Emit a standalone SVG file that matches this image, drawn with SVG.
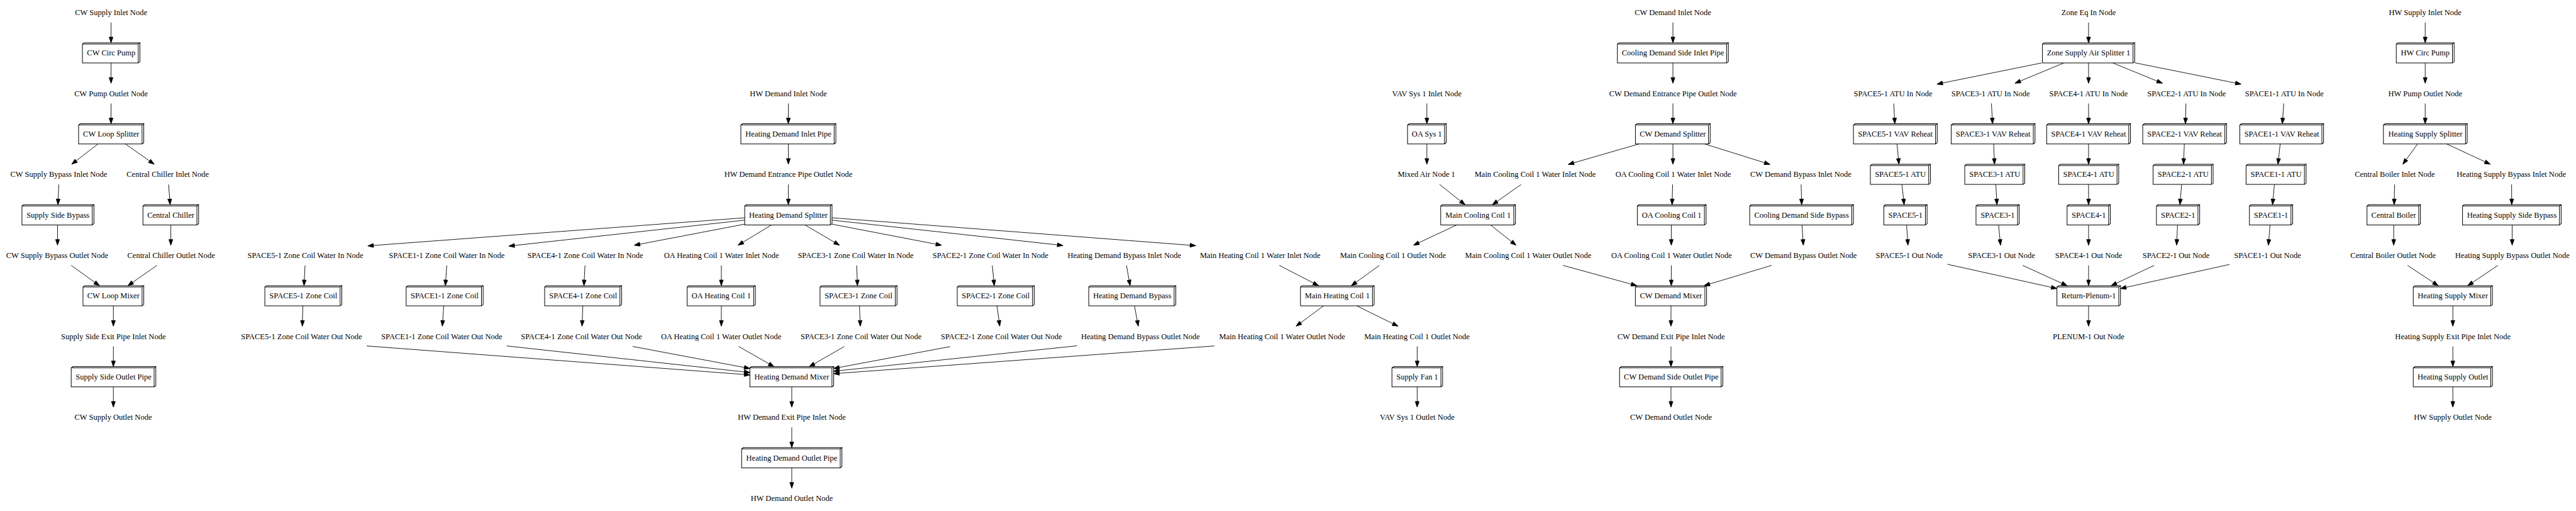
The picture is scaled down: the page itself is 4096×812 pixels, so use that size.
<svg xmlns="http://www.w3.org/2000/svg" width="4096" height="812" viewBox="0 0 4096 812">
<style>
.n text{font-family:"Liberation Serif","Times New Roman",Times,serif;font-size:18.67px;text-anchor:middle;fill:#000}
.b3{fill:none;stroke:#000;stroke-width:1.5}
.e path{fill:none;stroke:#000;stroke-width:1.33;marker-end:url(#ah)}
</style>
<defs>
<marker id="ah" viewBox="0 0 14 10" refX="13.3" refY="5" markerWidth="14" markerHeight="10" markerUnits="userSpaceOnUse" orient="auto" overflow="visible"><path d="M0,0.33L13.3,5L0,9.67Z" fill="#000" stroke="#000" stroke-width="1.33"/></marker>
</defs>
<rect width="4096" height="812" fill="#fff"/>
<g transform="scale(0.670157)">
<g id="edges" class="e">
<path d="M263.5,53.33L263.5,101.33"/>
<path d="M263.5,149.33L263.5,197.33"/>
<path d="M263.5,245.33L263.5,293.33"/>
<path d="M232.6,341.33L170.2,389.33"/>
<path d="M297.6,341.33L365.8,389.33"/>
<path d="M139.4,437.33L137.5,485.33"/>
<path d="M400,437.33L403.6,485.33"/>
<path d="M136.5,533.33L136.5,581.33"/>
<path d="M405.3,533.33L405.3,581.33"/>
<path d="M169,629.33L235.9,677.33"/>
<path d="M372.3,629.33L303.5,677.33"/>
<path d="M269,725.33L269,773.33"/>
<path d="M269,821.33L269,869.33"/>
<path d="M269,917.33L269,965.33"/>
<path d="M1870.5,245.33L1870.5,293.33"/>
<path d="M1870.5,341.33L1870.5,389.33"/>
<path d="M1870.5,437.33L1870.5,485.33"/>
<path d="M1767,516.4L872.7,583"/>
<path d="M1767,522L1207.4,583.5"/>
<path d="M1767,531.5L1505,581.5"/>
<path d="M1830.6,533.33L1751.3,581.33"/>
<path d="M1909.8,533.33L1991.7,581.33"/>
<path d="M1974,531.5L2234,581.5"/>
<path d="M1974,522L2522,582"/>
<path d="M1974,516.4L2837,582.5"/>
<path d="M723.8,629.33L721.3,677.33"/>
<path d="M1060,629.33L1056.7,677.33"/>
<path d="M1388,629.33L1385.5,677.33"/>
<path d="M1711.5,629.33L1711.5,677.33"/>
<path d="M2032.6,629.33L2034.5,677.33"/>
<path d="M2354.4,629.33L2359,677.33"/>
<path d="M2672.8,629.33L2681.3,677.33"/>
<path d="M3035.4,629.33L3128.5,677.33"/>
<path d="M718.6,725.33L717.3,773.33"/>
<path d="M1052.8,725.33L1049.5,773.33"/>
<path d="M1382.9,725.33L1381,773.33"/>
<path d="M1711.5,725.33L1711.5,773.33"/>
<path d="M2039.3,725.33L2041.2,773.33"/>
<path d="M2365.5,725.33L2372,773.33"/>
<path d="M2691.7,725.33L2700.8,773.33"/>
<path d="M3140.2,725.33L3075.2,773.33"/>
<path d="M870,820.3L1779.2,889"/>
<path d="M1202.2,820.3L1779.2,883.3"/>
<path d="M1501.1,821.5L1779.2,873.7"/>
<path d="M1752.6,821.5L1836.4,869.33"/>
<path d="M2003.4,821.5L1920.2,869.33"/>
<path d="M2254.4,821.8L1978,873.7"/>
<path d="M2555.2,820L1978,880.2"/>
<path d="M2881.4,820.3L1978,886"/>
<path d="M1878.6,917.33L1878.6,965.33"/>
<path d="M1878.6,1013.33L1878.6,1061.33"/>
<path d="M1878.6,1109.33L1878.6,1157.33"/>
<path d="M3385.5,245.33L3385.5,293.33"/>
<path d="M3385.5,341.33L3385.5,389.33"/>
<path d="M3415.7,437.33L3476.1,485.33"/>
<path d="M3609.3,437.33L3541.1,485.33"/>
<path d="M3456.6,533.33L3354,581.33"/>
<path d="M3536.5,533.33L3597,581.33"/>
<path d="M3272.7,629.33L3206.4,677.33"/>
<path d="M3219.4,725.33L3317,773.33"/>
<path d="M3362.5,821.33L3362.5,869.33"/>
<path d="M3362.5,917.33L3362.5,965.33"/>
<path d="M3969.3,53.33L3969.3,101.33"/>
<path d="M3969.3,149.33L3969.3,197.33"/>
<path d="M3969.3,245.33L3969.3,293.33"/>
<path d="M3888.7,341.33L3721,389.8"/>
<path d="M3969.3,341.33L3969.3,389.33"/>
<path d="M4044.7,341.33L4199.5,389.8"/>
<path d="M3968.6,437.33L3967.3,485.33"/>
<path d="M4273.5,437.33L4274.8,485.33"/>
<path d="M3965.4,533.33L3965.4,581.33"/>
<path d="M4275.5,533.33L4278.7,581.33"/>
<path d="M3708.7,629.33L3883.5,677.33"/>
<path d="M3965.4,629.33L3965.4,677.33"/>
<path d="M4203.4,629.33L4043.4,677.33"/>
<path d="M3964.7,725.33L3964.7,773.33"/>
<path d="M3964.7,821.33L3964.7,869.33"/>
<path d="M3964.7,917.33L3964.7,965.33"/>
<path d="M4955.5,53.33L4955.5,101.33"/>
<path d="M4844,149.33L4595.8,199.5"/>
<path d="M4896.7,149.33L4781,197.33"/>
<path d="M4955.5,149.33L4955.5,197.33"/>
<path d="M5013,149.33L5130.7,197.33"/>
<path d="M5065,148.8L5317.2,199.5"/>
<path d="M4493.2,245.33L4495.8,293.33"/>
<path d="M4725,245.33L4727.7,293.33"/>
<path d="M4955.5,245.33L4955.5,293.33"/>
<path d="M5186.6,245.33L5185.3,293.33"/>
<path d="M5418.6,245.33L5415.3,293.33"/>
<path d="M4501,341.33L4505.5,389.33"/>
<path d="M4730.3,341.33L4732.3,389.33"/>
<path d="M4955.5,341.33L4955.5,389.33"/>
<path d="M5182.7,341.33L5180.8,389.33"/>
<path d="M5410.1,341.33L5404.9,389.33"/>
<path d="M4512.7,437.33L4517.9,485.33"/>
<path d="M4735.5,437.33L4738.1,485.33"/>
<path d="M4955.5,437.33L4955.5,485.33"/>
<path d="M5176.2,437.33L5172.3,485.33"/>
<path d="M5396.5,437.33L5392,485.33"/>
<path d="M4523.7,533.33L4527,581.33"/>
<path d="M4742,533.33L4746.6,581.33"/>
<path d="M4955.5,533.33L4955.5,581.33"/>
<path d="M5166.5,533.33L5164.5,581.33"/>
<path d="M5386,533.33L5382.2,581.33"/>
<path d="M4620.5,626.6L4880.4,684.2"/>
<path d="M4799.2,629.33L4904.5,677.33"/>
<path d="M4955.5,629.33L4955.5,677.33"/>
<path d="M5111.2,629.33L5009.1,677.33"/>
<path d="M5290,627L5031.2,684.2"/>
<path d="M4955.5,725.33L4955.5,773.33"/>
<path d="M5754.2,53.33L5754.2,101.33"/>
<path d="M5754.2,149.33L5754.2,197.33"/>
<path d="M5754.2,245.33L5754.2,293.33"/>
<path d="M5736.3,341.33L5701.2,389.33"/>
<path d="M5805.2,341.33L5908.5,389.33"/>
<path d="M5681.7,437.33L5680.5,485.33"/>
<path d="M5959.2,437.33L5959.5,485.33"/>
<path d="M5679.5,533.33L5679.5,581.33"/>
<path d="M5960.5,533.33L5960.5,581.33"/>
<path d="M5712.3,629.33L5785,677.33"/>
<path d="M5926.7,629.33L5855.2,677.33"/>
<path d="M5819.8,725.33L5819.8,773.33"/>
<path d="M5819.8,821.33L5819.8,869.33"/>
<path d="M5819.8,917.33L5819.8,965.33"/>
</g>
<g id="text-nodes" class="n">
<g id="cw_supply_inlet_node" transform="translate(263.5,29.33)"><text y="6.5">CW Supply Inlet Node</text></g>
<g id="cw_pump_outlet_node" transform="translate(263.5,221.33)"><text y="6.5">CW Pump Outlet Node</text></g>
<g id="cw_supply_bypass_inlet_node" transform="translate(139.4,413.33)"><text y="6.5">CW Supply Bypass Inlet Node</text></g>
<g id="central_chiller_inlet_node" transform="translate(398,413.33)"><text y="6.5">Central Chiller Inlet Node</text></g>
<g id="cw_supply_bypass_outlet_node" transform="translate(135.5,605.33)"><text y="6.5">CW Supply Bypass Outlet Node</text></g>
<g id="central_chiller_outlet_node" transform="translate(406,605.33)"><text y="6.5">Central Chiller Outlet Node</text></g>
<g id="supply_side_exit_pipe_inlet_node" transform="translate(269,797.33)"><text y="6.5">Supply Side Exit Pipe Inlet Node</text></g>
<g id="cw_supply_outlet_node" transform="translate(268.5,989.33)"><text y="6.5">CW Supply Outlet Node</text></g>
<g id="hw_demand_inlet_node" transform="translate(1870.5,221.33)"><text y="6.5">HW Demand Inlet Node</text></g>
<g id="hw_demand_entrance_pipe_outlet_node" transform="translate(1870.5,413.33)"><text y="6.5">HW Demand Entrance Pipe Outlet Node</text></g>
<g id="space5_zc_in" transform="translate(724.6,605.33)"><text y="6.5">SPACE5-1 Zone Coil Water In Node</text></g>
<g id="space1_zc_in" transform="translate(1060,605.33)"><text y="6.5">SPACE1-1 Zone Coil Water In Node</text></g>
<g id="space4_zc_in" transform="translate(1388.7,605.33)"><text y="6.5">SPACE4-1 Zone Coil Water In Node</text></g>
<g id="oa_hc1_water_inlet" transform="translate(1711.7,605.33)"><text y="6.5">OA Heating Coil 1 Water Inlet Node</text></g>
<g id="space3_zc_in" transform="translate(2030,605.33)"><text y="6.5">SPACE3-1 Zone Coil Water In Node</text></g>
<g id="space2_zc_in" transform="translate(2350,605.33)"><text y="6.5">SPACE2-1 Zone Coil Water In Node</text></g>
<g id="hd_bypass_inlet" transform="translate(2667.6,605.33)"><text y="6.5">Heating Demand Bypass Inlet Node</text></g>
<g id="mhc1_water_inlet" transform="translate(2990,605.33)"><text y="6.5">Main Heating Coil 1 Water Inlet Node</text></g>
<g id="space5_zc_out" transform="translate(715.4,797.33)"><text y="6.5">SPACE5-1 Zone Coil Water Out Node</text></g>
<g id="space1_zc_out" transform="translate(1048,797.33)"><text y="6.5">SPACE1-1 Zone Coil Water Out Node</text></g>
<g id="space4_zc_out" transform="translate(1379.6,797.33)"><text y="6.5">SPACE4-1 Zone Coil Water Out Node</text></g>
<g id="oa_hc1_water_outlet" transform="translate(1711,797.33)"><text y="6.5">OA Heating Coil 1 Water Outlet Node</text></g>
<g id="space3_zc_out" transform="translate(2043,797.33)"><text y="6.5">SPACE3-1 Zone Coil Water Out Node</text></g>
<g id="space2_zc_out" transform="translate(2376,797.33)"><text y="6.5">SPACE2-1 Zone Coil Water Out Node</text></g>
<g id="hd_bypass_outlet" transform="translate(2706,797.33)"><text y="6.5">Heating Demand Bypass Outlet Node</text></g>
<g id="mhc1_water_outlet" transform="translate(3042,797.33)"><text y="6.5">Main Heating Coil 1 Water Outlet Node</text></g>
<g id="hw_demand_exit_pipe_inlet" transform="translate(1878.6,989.33)"><text y="6.5">HW Demand Exit Pipe Inlet Node</text></g>
<g id="hw_demand_outlet_node" transform="translate(1878.6,1181.33)"><text y="6.5">HW Demand Outlet Node</text></g>
<g id="vav_sys1_inlet" transform="translate(3385.5,221.33)"><text y="6.5">VAV Sys 1 Inlet Node</text></g>
<g id="mixed_air_node1" transform="translate(3384.5,413.33)"><text y="6.5">Mixed Air Node 1</text></g>
<g id="mcc1_water_inlet" transform="translate(3642.4,413.33)"><text y="6.5">Main Cooling Coil 1 Water Inlet Node</text></g>
<g id="mcc1_outlet" transform="translate(3305,605.33)"><text y="6.5">Main Cooling Coil 1 Outlet Node</text></g>
<g id="mcc1_water_outlet" transform="translate(3626,605.33)"><text y="6.5">Main Cooling Coil 1 Water Outlet Node</text></g>
<g id="mhc1_outlet" transform="translate(3362,797.33)"><text y="6.5">Main Heating Coil 1 Outlet Node</text></g>
<g id="vav_sys1_outlet" transform="translate(3362.5,989.33)"><text y="6.5">VAV Sys 1 Outlet Node</text></g>
<g id="cw_demand_inlet" transform="translate(3969.3,29.33)"><text y="6.5">CW Demand Inlet Node</text></g>
<g id="cw_demand_entrance_pipe_outlet" transform="translate(3969.5,221.33)"><text y="6.5">CW Demand Entrance Pipe Outlet Node</text></g>
<g id="oacc1_water_inlet" transform="translate(3970,413.33)"><text y="6.5">OA Cooling Coil 1 Water Inlet Node</text></g>
<g id="cw_demand_bypass_inlet" transform="translate(4272.6,413.33)"><text y="6.5">CW Demand Bypass Inlet Node</text></g>
<g id="oacc1_water_outlet" transform="translate(3966,605.33)"><text y="6.5">OA Cooling Coil 1 Water Outlet Node</text></g>
<g id="cw_demand_bypass_outlet" transform="translate(4279,605.33)"><text y="6.5">CW Demand Bypass Outlet Node</text></g>
<g id="cw_demand_exit_pipe_inlet" transform="translate(3965,797.33)"><text y="6.5">CW Demand Exit Pipe Inlet Node</text></g>
<g id="cw_demand_outlet" transform="translate(3964.7,989.33)"><text y="6.5">CW Demand Outlet Node</text></g>
<g id="zone_eq_in" transform="translate(4955.5,29.33)"><text y="6.5">Zone Eq In Node</text></g>
<g id="space5_atu_in" transform="translate(4491.5,221.33)"><text y="6.5">SPACE5-1 ATU In Node</text></g>
<g id="space3_atu_in" transform="translate(4723,221.33)"><text y="6.5">SPACE3-1 ATU In Node</text></g>
<g id="space4_atu_in" transform="translate(4955.5,221.33)"><text y="6.5">SPACE4-1 ATU In Node</text></g>
<g id="space2_atu_in" transform="translate(5188,221.33)"><text y="6.5">SPACE2-1 ATU In Node</text></g>
<g id="space1_atu_in" transform="translate(5420,221.33)"><text y="6.5">SPACE1-1 ATU In Node</text></g>
<g id="space5_out" transform="translate(4530,605.33)"><text y="6.5">SPACE5-1 Out Node</text></g>
<g id="space3_out" transform="translate(4748.8,605.33)"><text y="6.5">SPACE3-1 Out Node</text></g>
<g id="space4_out" transform="translate(4955.5,605.33)"><text y="6.5">SPACE4-1 Out Node</text></g>
<g id="space2_out" transform="translate(5163,605.33)"><text y="6.5">SPACE2-1 Out Node</text></g>
<g id="space1_out" transform="translate(5380,605.33)"><text y="6.5">SPACE1-1 Out Node</text></g>
<g id="plenum1_out" transform="translate(4955.5,797.33)"><text y="6.5">PLENUM-1 Out Node</text></g>
<g id="hw_supply_inlet" transform="translate(5754.2,29.33)"><text y="6.5">HW Supply Inlet Node</text></g>
<g id="hw_pump_outlet" transform="translate(5754.2,221.33)"><text y="6.5">HW Pump Outlet Node</text></g>
<g id="central_boiler_inlet" transform="translate(5682,413.33)"><text y="6.5">Central Boiler Inlet Node</text></g>
<g id="hs_bypass_inlet" transform="translate(5958.5,413.33)"><text y="6.5">Heating Supply Bypass Inlet Node</text></g>
<g id="central_boiler_outlet" transform="translate(5678,605.33)"><text y="6.5">Central Boiler Outlet Node</text></g>
<g id="hs_bypass_outlet" transform="translate(5961,605.33)"><text y="6.5">Heating Supply Bypass Outlet Node</text></g>
<g id="hs_exit_pipe_inlet" transform="translate(5819.8,797.33)"><text y="6.5">Heating Supply Exit Pipe Inlet Node</text></g>
<g id="hw_supply_outlet" transform="translate(5819.8,989.33)"><text y="6.5">HW Supply Outlet Node</text></g>
</g>
<g id="box-nodes" class="n">
<g id="cw_circ_pump" transform="translate(263.8,125.33)"><path class="b3" d="M-68.2,-21H64.2V24H-68.2ZM-68.2,-21L-64.2,-24H68.2L64.2,-21M68.2,-24V21L64.2,24"/><text y="6.5">CW Circ Pump</text></g>
<g id="cw_loop_splitter" transform="translate(263.8,317.33)"><path class="b3" d="M-77.3,-21H73.3V24H-77.3ZM-77.3,-21L-73.3,-24H77.3L73.3,-21M77.3,-24V21L73.3,24"/><text y="6.5">CW Loop Splitter</text></g>
<g id="supply_side_bypass" transform="translate(137.5,509.33)"><path class="b3" d="M-85.4,-21H81.4V24H-85.4ZM-85.4,-21L-81.4,-24H85.4L81.4,-21M85.4,-24V21L81.4,24"/><text y="6.5">Supply Side Bypass</text></g>
<g id="central_chiller" transform="translate(405.2,509.33)"><path class="b3" d="M-66,-21H62V24H-66ZM-66,-21L-62,-24H66L62,-21M66,-24V21L62,24"/><text y="6.5">Central Chiller</text></g>
<g id="cw_loop_mixer" transform="translate(269,701.33)"><path class="b3" d="M-72.1,-21H68.1V24H-72.1ZM-72.1,-21L-68.1,-24H72.1L68.1,-21M72.1,-24V21L68.1,24"/><text y="6.5">CW Loop Mixer</text></g>
<g id="supply_side_outlet_pipe" transform="translate(269.3,893.33)"><path class="b3" d="M-100.4,-21H96.4V24H-100.4ZM-100.4,-21L-96.4,-24H100.4L96.4,-21M100.4,-24V21L96.4,24"/><text y="6.5">Supply Side Outlet Pipe</text></g>
<g id="space5_zone_coil" transform="translate(719.7,701.33)"><path class="b3" d="M-91.3,-21H87.3V24H-91.3ZM-91.3,-21L-87.3,-24H91.3L87.3,-21M91.3,-24V21L87.3,24"/><text y="6.5">SPACE5-1 Zone Coil</text></g>
<g id="space1_zone_coil" transform="translate(1055,701.33)"><path class="b3" d="M-91.3,-21H87.3V24H-91.3ZM-91.3,-21L-87.3,-24H91.3L87.3,-21M91.3,-24V21L87.3,24"/><text y="6.5">SPACE1-1 Zone Coil</text></g>
<g id="space4_zone_coil" transform="translate(1383.6,701.33)"><path class="b3" d="M-91.3,-21H87.3V24H-91.3ZM-91.3,-21L-87.3,-24H91.3L87.3,-21M91.3,-24V21L87.3,24"/><text y="6.5">SPACE4-1 Zone Coil</text></g>
<g id="oa_heating_coil1" transform="translate(1711.3,701.33)"><path class="b3" d="M-80.9,-21H76.9V24H-80.9ZM-80.9,-21L-76.9,-24H80.9L76.9,-21M80.9,-24V21L76.9,24"/><text y="6.5">OA Heating Coil 1</text></g>
<g id="space3_zone_coil" transform="translate(2037,701.33)"><path class="b3" d="M-91.3,-21H87.3V24H-91.3ZM-91.3,-21L-87.3,-24H91.3L87.3,-21M91.3,-24V21L87.3,24"/><text y="6.5">SPACE3-1 Zone Coil</text></g>
<g id="space2_zone_coil" transform="translate(2362.5,701.33)"><path class="b3" d="M-91.3,-21H87.3V24H-91.3ZM-91.3,-21L-87.3,-24H91.3L87.3,-21M91.3,-24V21L87.3,24"/><text y="6.5">SPACE2-1 Zone Coil</text></g>
<g id="heating_demand_bypass" transform="translate(2686.5,701.33)"><path class="b3" d="M-103.3,-21H99.3V24H-103.3ZM-103.3,-21L-99.3,-24H103.3L99.3,-21M103.3,-24V21L99.3,24"/><text y="6.5">Heating Demand Bypass</text></g>
<g id="heating_demand_inlet_pipe" transform="translate(1870.5,317.33)"><path class="b3" d="M-112.7,-21H108.7V24H-112.7ZM-112.7,-21L-108.7,-24H112.7L108.7,-21M112.7,-24V21L108.7,24"/><text y="6.5">Heating Demand Inlet Pipe</text></g>
<g id="heating_demand_splitter" transform="translate(1870.5,509.33)"><path class="b3" d="M-103.6,-21H99.6V24H-103.6ZM-103.6,-21L-99.6,-24H103.6L99.6,-21M103.6,-24V21L99.6,24"/><text y="6.5">Heating Demand Splitter</text></g>
<g id="heating_demand_mixer" transform="translate(1878.6,893.33)"><path class="b3" d="M-99.4,-21H95.4V24H-99.4ZM-99.4,-21L-95.4,-24H99.4L95.4,-21M99.4,-24V21L95.4,24"/><text y="6.5">Heating Demand Mixer</text></g>
<g id="heating_demand_outlet_pipe" transform="translate(1878.6,1085.33)"><path class="b3" d="M-119,-21H115V24H-119ZM-119,-21L-115,-24H119L115,-21M119,-24V21L115,24"/><text y="6.5">Heating Demand Outlet Pipe</text></g>
<g id="main_heating_coil1" transform="translate(3173,701.33)"><path class="b3" d="M-87.4,-21H83.4V24H-87.4ZM-87.4,-21L-83.4,-24H87.4L83.4,-21M87.4,-24V21L83.4,24"/><text y="6.5">Main Heating Coil 1</text></g>
<g id="supply_fan1" transform="translate(3362.7,893.33)"><path class="b3" d="M-60.1,-21H56.1V24H-60.1ZM-60.1,-21L-56.1,-24H60.1L56.1,-21M60.1,-24V21L56.1,24"/><text y="6.5">Supply Fan 1</text></g>
<g id="oa_sys1" transform="translate(3385.5,317.33)"><path class="b3" d="M-45.9,-21H41.9V24H-45.9ZM-45.9,-21L-41.9,-24H45.9L41.9,-21M45.9,-24V21L41.9,24"/><text y="6.5">OA Sys 1</text></g>
<g id="main_cooling_coil1" transform="translate(3507,509.33)"><path class="b3" d="M-88.7,-21H84.7V24H-88.7ZM-88.7,-21L-84.7,-24H88.7L84.7,-21M88.7,-24V21L84.7,24"/><text y="6.5">Main Cooling Coil 1</text></g>
<g id="cooling_demand_side_inlet_pipe" transform="translate(3969.2,125.33)"><path class="b3" d="M-131.7,-21H127.7V24H-131.7ZM-131.7,-21L-127.7,-24H131.7L127.7,-21M131.7,-24V21L127.7,24"/><text y="6.5">Cooling Demand Side Inlet Pipe</text></g>
<g id="cw_demand_splitter" transform="translate(3969,317.33)"><path class="b3" d="M-88.7,-21H84.7V24H-88.7ZM-88.7,-21L-84.7,-24H88.7L84.7,-21M88.7,-24V21L84.7,24"/><text y="6.5">CW Demand Splitter</text></g>
<g id="oa_cooling_coil1" transform="translate(3966.4,509.33)"><path class="b3" d="M-81.6,-21H77.6V24H-81.6ZM-81.6,-21L-77.6,-24H81.6L77.6,-21M81.6,-24V21L77.6,24"/><text y="6.5">OA Cooling Coil 1</text></g>
<g id="cooling_demand_side_bypass" transform="translate(4274.5,509.33)"><path class="b3" d="M-123.1,-21H119.1V24H-123.1ZM-123.1,-21L-119.1,-24H123.1L119.1,-21M123.1,-24V21L119.1,24"/><text y="6.5">Cooling Demand Side Bypass</text></g>
<g id="cw_demand_mixer" transform="translate(3964.7,701.33)"><path class="b3" d="M-84.5,-21H80.5V24H-84.5ZM-84.5,-21L-80.5,-24H84.5L80.5,-21M84.5,-24V21L80.5,24"/><text y="6.5">CW Demand Mixer</text></g>
<g id="cw_demand_side_outlet_pipe" transform="translate(3965.2,893.33)"><path class="b3" d="M-122.5,-21H118.5V24H-122.5ZM-122.5,-21L-118.5,-24H122.5L118.5,-21M122.5,-24V21L118.5,24"/><text y="6.5">CW Demand Side Outlet Pipe</text></g>
<g id="zone_supply_air_splitter1" transform="translate(4955.5,125.33)"><path class="b3" d="M-109.5,-21H105.5V24H-109.5ZM-109.5,-21L-105.5,-24H109.5L105.5,-21M109.5,-24V21L105.5,24"/><text y="6.5">Zone Supply Air Splitter 1</text></g>
<g id="space5_vav_reheat" transform="translate(4497,317.33)"><path class="b3" d="M-99.4,-21H95.4V24H-99.4ZM-99.4,-21L-95.4,-24H99.4L95.4,-21M99.4,-24V21L95.4,24"/><text y="6.5">SPACE5-1 VAV Reheat</text></g>
<g id="space3_vav_reheat" transform="translate(4729,317.33)"><path class="b3" d="M-99.4,-21H95.4V24H-99.4ZM-99.4,-21L-95.4,-24H99.4L95.4,-21M99.4,-24V21L95.4,24"/><text y="6.5">SPACE3-1 VAV Reheat</text></g>
<g id="space4_vav_reheat" transform="translate(4955.5,317.33)"><path class="b3" d="M-99.4,-21H95.4V24H-99.4ZM-99.4,-21L-95.4,-24H99.4L95.4,-21M99.4,-24V21L95.4,24"/><text y="6.5">SPACE4-1 VAV Reheat</text></g>
<g id="space2_vav_reheat" transform="translate(5183.4,317.33)"><path class="b3" d="M-99.4,-21H95.4V24H-99.4ZM-99.4,-21L-95.4,-24H99.4L95.4,-21M99.4,-24V21L95.4,24"/><text y="6.5">SPACE2-1 VAV Reheat</text></g>
<g id="space1_vav_reheat" transform="translate(5413.7,317.33)"><path class="b3" d="M-99.4,-21H95.4V24H-99.4ZM-99.4,-21L-95.4,-24H99.4L95.4,-21M99.4,-24V21L95.4,24"/><text y="6.5">SPACE1-1 VAV Reheat</text></g>
<g id="space5_atu" transform="translate(4509,413.33)"><path class="b3" d="M-71.2,-21H67.2V24H-71.2ZM-71.2,-21L-67.2,-24H71.2L67.2,-21M71.2,-24V21L67.2,24"/><text y="6.5">SPACE5-1 ATU</text></g>
<g id="space3_atu" transform="translate(4732.9,413.33)"><path class="b3" d="M-71.2,-21H67.2V24H-71.2ZM-71.2,-21L-67.2,-24H71.2L67.2,-21M71.2,-24V21L67.2,24"/><text y="6.5">SPACE3-1 ATU</text></g>
<g id="space4_atu" transform="translate(4955.8,413.33)"><path class="b3" d="M-71.2,-21H67.2V24H-71.2ZM-71.2,-21L-67.2,-24H71.2L67.2,-21M71.2,-24V21L67.2,24"/><text y="6.5">SPACE4-1 ATU</text></g>
<g id="space2_atu" transform="translate(5179.8,413.33)"><path class="b3" d="M-71.2,-21H67.2V24H-71.2ZM-71.2,-21L-67.2,-24H71.2L67.2,-21M71.2,-24V21L67.2,24"/><text y="6.5">SPACE2-1 ATU</text></g>
<g id="space1_atu" transform="translate(5400.4,413.33)"><path class="b3" d="M-71.2,-21H67.2V24H-71.2ZM-71.2,-21L-67.2,-24H71.2L67.2,-21M71.2,-24V21L67.2,24"/><text y="6.5">SPACE1-1 ATU</text></g>
<g id="space5_1" transform="translate(4521,509.33)"><path class="b3" d="M-51.3,-21H47.3V24H-51.3ZM-51.3,-21L-47.3,-24H51.3L47.3,-21M51.3,-24V21L47.3,24"/><text y="6.5">SPACE5-1</text></g>
<g id="space3_1" transform="translate(4739.7,509.33)"><path class="b3" d="M-51.3,-21H47.3V24H-51.3ZM-51.3,-21L-47.3,-24H51.3L47.3,-21M51.3,-24V21L47.3,24"/><text y="6.5">SPACE3-1</text></g>
<g id="space4_1" transform="translate(4955.8,509.33)"><path class="b3" d="M-51.3,-21H47.3V24H-51.3ZM-51.3,-21L-47.3,-24H51.3L47.3,-21M51.3,-24V21L47.3,24"/><text y="6.5">SPACE4-1</text></g>
<g id="space2_1" transform="translate(5167.8,509.33)"><path class="b3" d="M-51.3,-21H47.3V24H-51.3ZM-51.3,-21L-47.3,-24H51.3L47.3,-21M51.3,-24V21L47.3,24"/><text y="6.5">SPACE2-1</text></g>
<g id="space1_1" transform="translate(5388.4,509.33)"><path class="b3" d="M-51.3,-21H47.3V24H-51.3ZM-51.3,-21L-47.3,-24H51.3L47.3,-21M51.3,-24V21L47.3,24"/><text y="6.5">SPACE1-1</text></g>
<g id="return_plenum1" transform="translate(4955.8,701.33)"><path class="b3" d="M-75.4,-21H71.4V24H-75.4ZM-75.4,-21L-71.4,-24H75.4L71.4,-21M75.4,-24V21L71.4,24"/><text y="6.5">Return-Plenum-1</text></g>
<g id="hw_circ_pump" transform="translate(5754.2,125.33)"><path class="b3" d="M-68.6,-21H64.6V24H-68.6ZM-68.6,-21L-64.6,-24H68.6L64.6,-21M68.6,-24V21L64.6,24"/><text y="6.5">HW Circ Pump</text></g>
<g id="heating_supply_splitter" transform="translate(5754.5,317.33)"><path class="b3" d="M-99.4,-21H95.4V24H-99.4ZM-99.4,-21L-95.4,-24H99.4L95.4,-21M99.4,-24V21L95.4,24"/><text y="6.5">Heating Supply Splitter</text></g>
<g id="central_boiler" transform="translate(5679.5,509.33)"><path class="b3" d="M-63.4,-21H59.4V24H-63.4ZM-63.4,-21L-59.4,-24H63.4L59.4,-21M63.4,-24V21L59.4,24"/><text y="6.5">Central Boiler</text></g>
<g id="heating_supply_side_bypass" transform="translate(5959.8,509.33)"><path class="b3" d="M-117,-21H113V24H-117ZM-117,-21L-113,-24H117L113,-21M117,-24V21L113,24"/><text y="6.5">Heating Supply Side Bypass</text></g>
<g id="heating_supply_mixer" transform="translate(5819.8,701.33)"><path class="b3" d="M-93.9,-21H89.9V24H-93.9ZM-93.9,-21L-89.9,-24H93.9L89.9,-21M93.9,-24V21L89.9,24"/><text y="6.5">Heating Supply Mixer</text></g>
<g id="heating_supply_outlet" transform="translate(5819.8,893.33)"><path class="b3" d="M-93.9,-21H89.9V24H-93.9ZM-93.9,-21L-89.9,-24H93.9L89.9,-21M93.9,-24V21L89.9,24"/><text y="6.5">Heating Supply Outlet</text></g>
</g>
</g>
</svg>
